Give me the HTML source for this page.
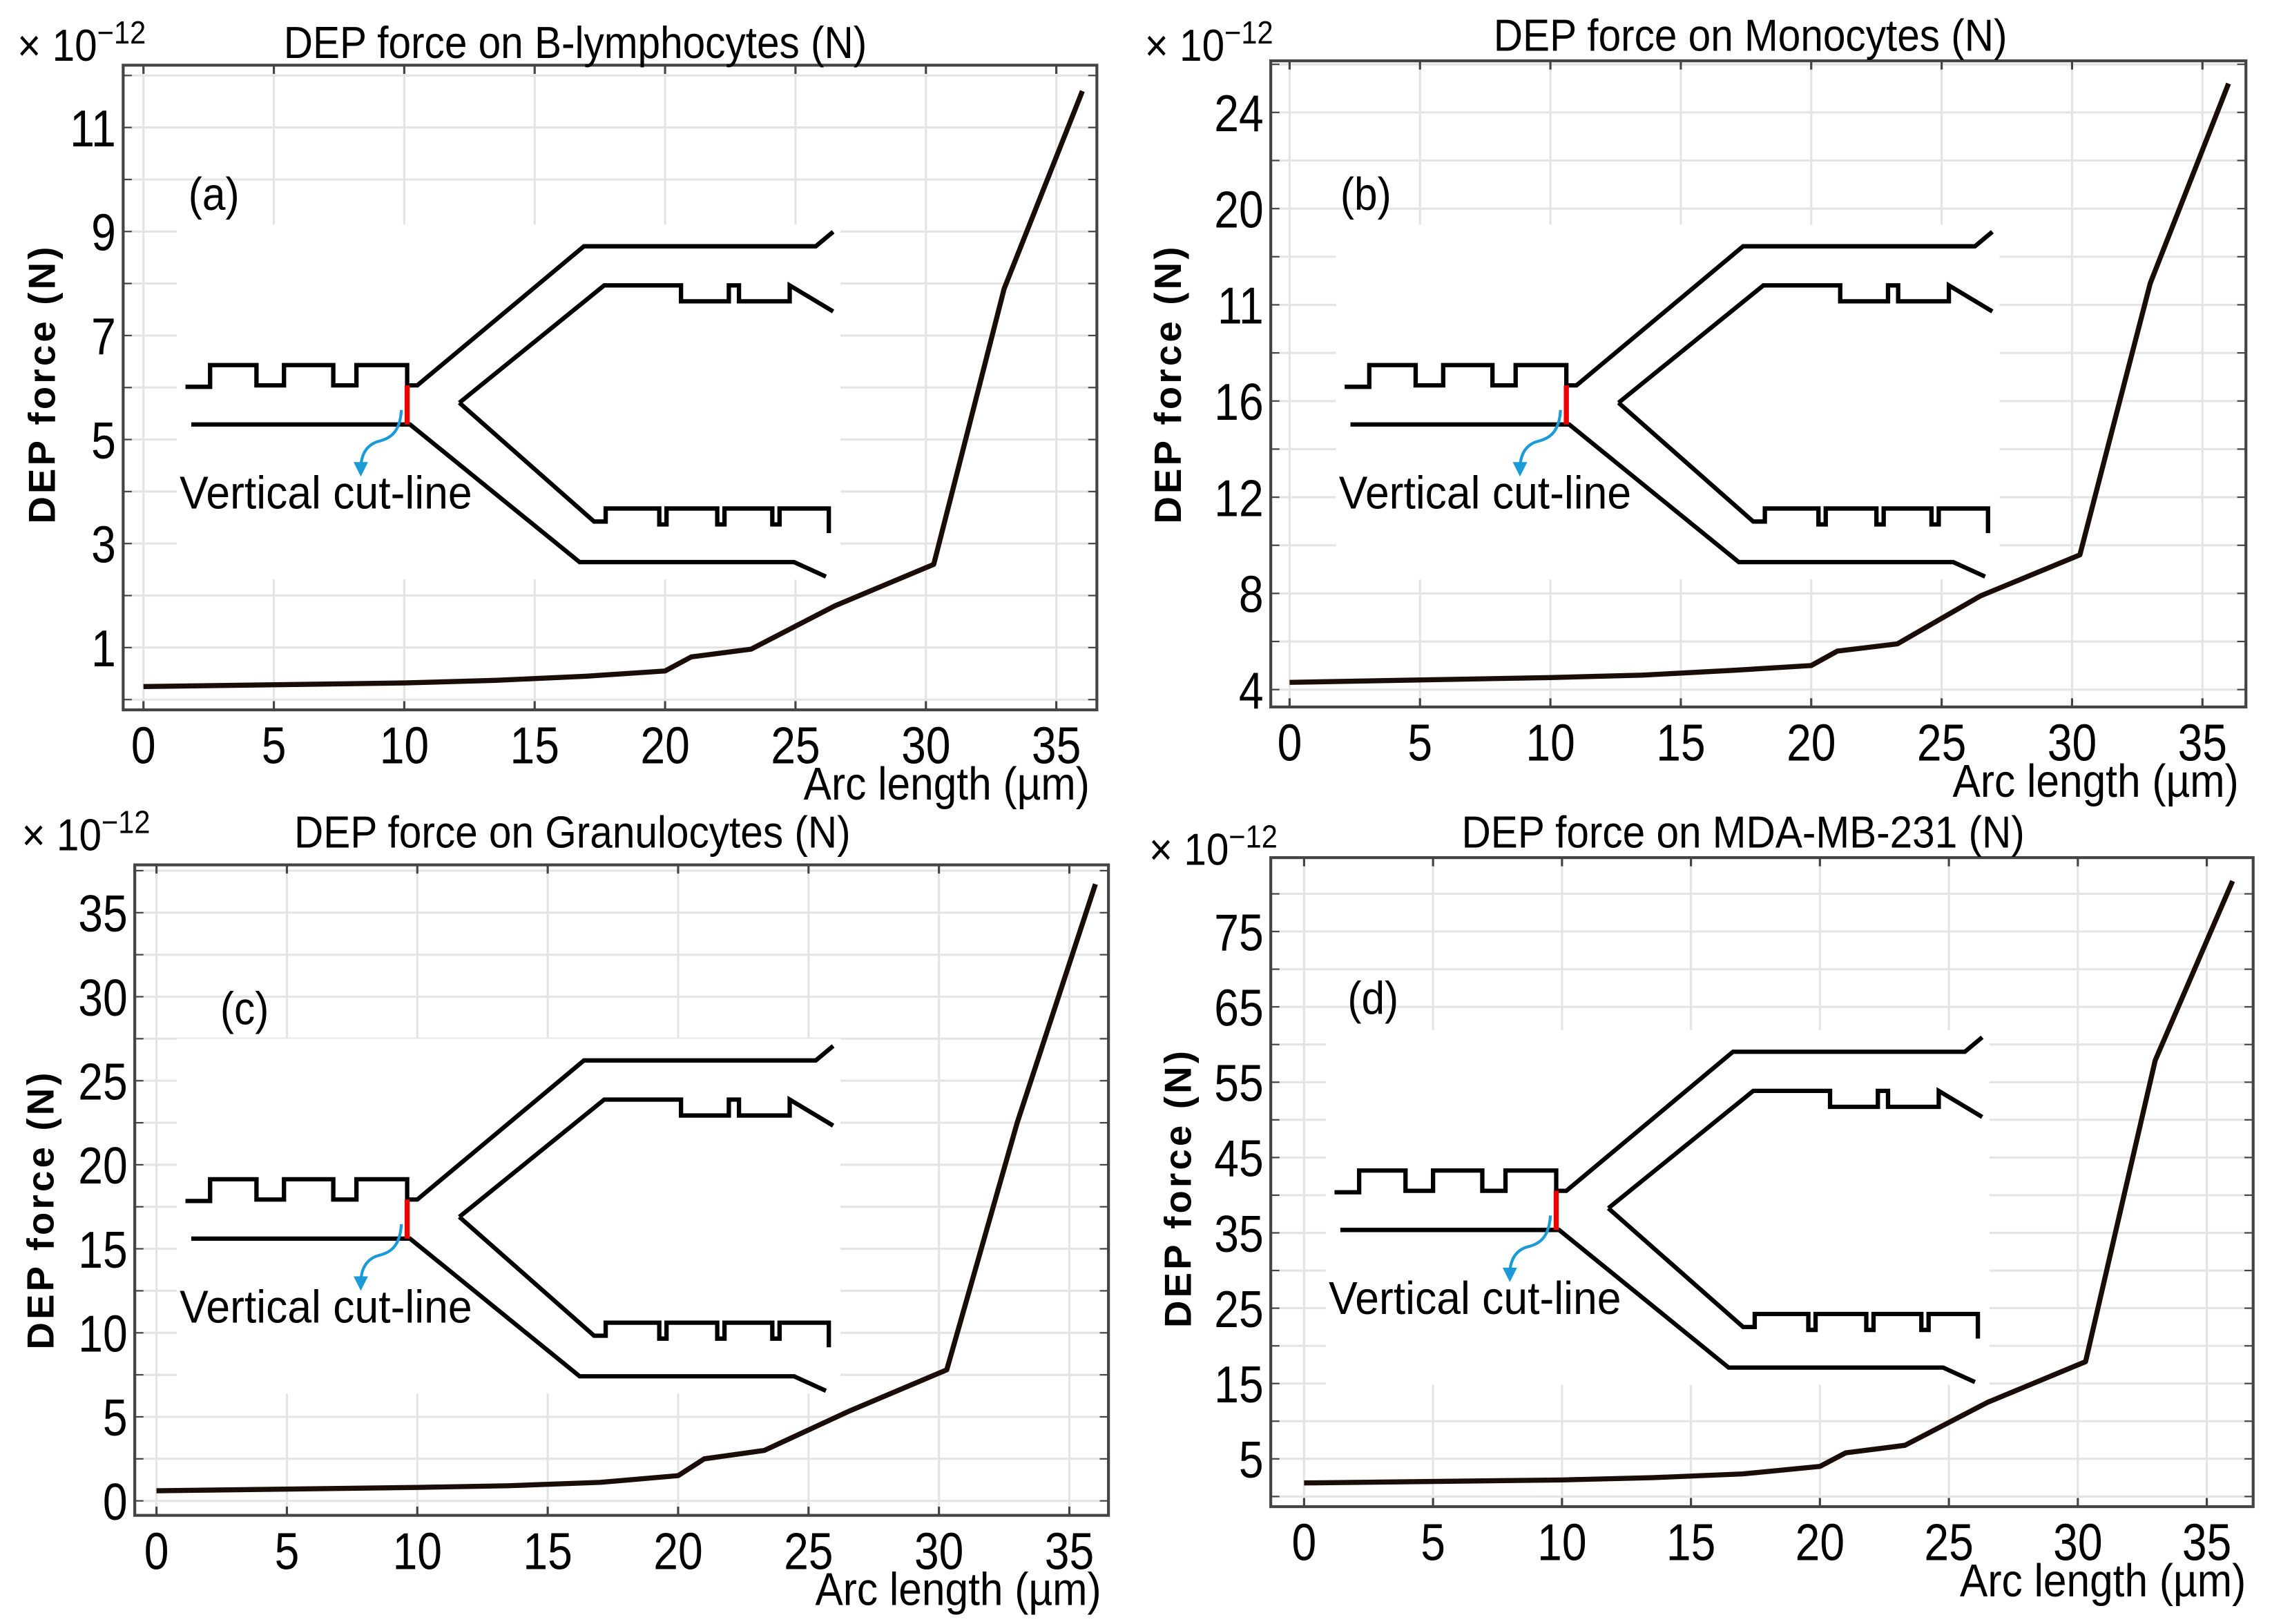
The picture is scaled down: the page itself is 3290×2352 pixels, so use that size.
<!DOCTYPE html>
<html><head><meta charset="utf-8"><style>
html,body{margin:0;padding:0;background:#fff;}
svg{display:block;}
text{font-family:"Liberation Sans",sans-serif;}
</style></head><body>
<svg id="fig" width="3290" height="2352" viewBox="0 0 1568 1121" preserveAspectRatio="none" xmlns="http://www.w3.org/2000/svg"></svg>
<script>
// x values shared by all panels (arc length, µm)
const arcX = [0, 10, 13.5, 17, 20, 21, 23.3, 26.5, 30.3, 33, 36];
// series values (×1e-12 N)
const bLympho = [0.25, 0.32, 0.37, 0.45, 0.55, 0.82, 0.97, 1.8, 2.6, 7.9, 11.7];
const mono = [4.3, 4.5, 4.6, 4.8, 5.0, 5.6, 5.9, 7.9, 9.6, 20.9, 29.2];
const granulo = [0.6, 0.8, 0.9, 1.1, 1.5, 2.5, 3.0, 5.3, 7.8, 22.5, 36.7];
const mda = [1.8, 2.2, 2.5, 3.0, 4.0, 5.8, 6.8, 12.5, 17.9, 57.9, 81.7];
// tick values and printed labels
const xTicks = [0, 5, 10, 15, 20, 25, 30, 35];
const yTicksA = [1, 3, 5, 7, 9, 11];
const yLabelsA = ["1", "3", "5", "7", "9", "11"];
const yTicksB = [4, 8, 12, 16, 20, 24, 28];
const yLabelsB = ["4", "8", "12", "16", "11", "20", "24"];
const yTicksC = [0, 5, 10, 15, 20, 25, 30, 35];
const yLabelsC = ["0", "5", "10", "15", "20", "25", "30", "35"];
const yTicksD = [5, 15, 25, 35, 45, 55, 65, 75];
const yLabelsD = ["5", "15", "25", "35", "45", "55", "65", "75"];
const titles = ["DEP force on B-lymphocytes (N)", "DEP force on Monocytes (N)", "DEP force on Granulocytes (N)", "DEP force on MDA-MB-231 (N)"];

const NS = "http://www.w3.org/2000/svg";
const svg = document.getElementById("fig");
function mk(tag, attrs, parent) {
  const e = document.createElementNS(NS, tag);
  for (const k in attrs) e.setAttribute(k, attrs[k]);
  (parent || svg).appendChild(e);
  return e;
}
function stext(parent, x, y, size, sx, anchor, str) {
  const t = mk("text", {x:0, y:0, "font-size":size, "text-anchor":anchor, transform:`translate(${x},${y}) scale(${sx},1)`}, parent);
  t.textContent = str;
  return t;
}

const panels = [
  {id:"a", box:[85,45,757,490], x0:99, xs:18, yr:447, yv:1, ys:35.9, minor:1, yT:yTicksA, yL:yLabelsA, data:bLympho,
   title:[397,40], mult:[12,42], ylab:[38,265], off:[0,0], tag:[130,145]},
  {id:"b", box:[877,42,1550,488], x0:890, xs:18, yr:476, yv:4, ys:16.6, minor:2, yT:yTicksB, yL:yLabelsB, data:mono,
   title:[1208,35], mult:[790,42], ylab:[815,265], off:[800,0], tag:[925,145]},
  {id:"c", box:[93,597,765,1046], x0:108, xs:18, yr:1036, yv:0, ys:11.6, minor:2.5, yT:yTicksC, yL:yLabelsC, data:granulo,
   title:[395,585], mult:[15,587], ylab:[37,835], off:[0,562], tag:[152,707]},
  {id:"d", box:[877,592,1555,1040], x0:900, xs:17.8, yr:1007, yv:5, ys:5.2, minor:5, yT:yTicksD, yL:yLabelsD, data:mda,
   title:[1203,585], mult:[793,597], ylab:[822,820], off:[793,556], tag:[930,700]}
];

panels.forEach((p, pi) => {
  const g = mk("g", {});
  
  
  const [L,T,R,B] = p.box;
  const X = v => p.x0 + p.xs * v;
  const Y = v => p.yr - p.ys * (v - p.yv);
  const vmin = p.yv - (B - p.yr) / p.ys, vmax = p.yv + (p.yr - T) / p.ys;
  const grid = mk("g", {stroke:"#e4e4e4", "stroke-width":1.5}, g);
  
  
  xTicks.forEach(t => mk("line", {x1:X(t), x2:X(t), y1:T, y2:B}, grid));
  const start = Math.ceil((vmin - p.yv) / p.minor) * p.minor + p.yv;
  for (let v = start; v <= vmax; v += p.minor) {
    mk("line", {x1:L, x2:R, y1:Y(v), y2:Y(v)}, grid);
    mk("line", {x1:L, x2:L+6, y1:Y(v), y2:Y(v), stroke:"#444"}, g);
    mk("line", {x1:R-6, x2:R, y1:Y(v), y2:Y(v), stroke:"#444"}, g);
  }
  xTicks.forEach(t => {
    mk("line", {x1:X(t), x2:X(t), y1:B, y2:B-6, stroke:"#444", "stroke-width":1.5}, g);
    mk("line", {x1:X(t), x2:X(t), y1:T, y2:T+6, stroke:"#444", "stroke-width":1.5}, g);
  });
  const [ox, oy] = p.off;
  const sch = mk("g", {transform:`translate(${ox},${oy})`}, g);
  
  
  mk("rect", {x:122, y:155, width:458, height:245, fill:"#fff"}, sch);
  const st = {fill:"none", stroke:"#000", "stroke-width":3, "stroke-linejoin":"miter"};
  const paths = [
    "M128,267 H145 V252 H177 V266 H196 V252 H230 V266 H246 V252 H281 V266 H288 L403,170 H563 L575,160",
    "M317,278 L417,197 H470 V208 H503 V197 H510 V208 H545 V197 L575,215",
    "M132,293 H283 L400,388 H548 L570,398",
    "M317,278 L410,360 H418 V351 H455 V362 H460 V351 H495 V362 H500 V351 H533 V362 H538 V351 H572 V368"
  ];
  paths.forEach(d => mk("path", Object.assign({d}, st), sch));
  const red = mk("line", {x1:281, x2:281, y1:266, y2:293, stroke:"#e00", "stroke-width":3.5}, sch);
  
  
  mk("path", {d:"M277,283 C276,300 268,303 260,305 C252,308 249,315 249,324", fill:"none", stroke:"#1a9ad6", "stroke-width":2}, sch);
  mk("path", {d:"M244,319 L249,329 L254,319 Z", fill:"#1a9ad6"}, sch);
  const cl = stext(sch, 124, 351, 32, 0.93, "start", "Vertical cut-line");
  
  
  const pts = arcX.map((x, i) => X(x) + "," + Y(p.data[i])).join(" ");
  const line = mk("polyline", {points:pts, fill:"none", stroke:"#1a0d08", "stroke-width":3.5, "stroke-linejoin":"round"}, g);
  
  
  mk("rect", {x:L, y:T, width:R-L, height:B-T, fill:"none", stroke:"#444", "stroke-width":2}, g);
  xTicks.forEach(t => {
    const tx = stext(g, X(t), B+37, 36, 0.85, "middle", String(t));
    
    
  });
  p.yT.forEach((t, i) => {
    const ty = stext(g, L-5, Y(t)+13, 36, 0.85, "end", p.yL[i]);
    
    
  });
  const xl = stext(g, R-5, B+62, 32, 0.9, "end", "Arc length (µm)");
  
  
  const yl = mk("text", {x:0, y:0, "font-size":26, "font-weight":"bold", "text-anchor":"middle", "letter-spacing":2, transform:`translate(${p.ylab[0]},${p.ylab[1]}) rotate(-90)`}, g);
  yl.textContent = "DEP force (N)";
  
  
  const ti = stext(g, p.title[0], p.title[1], 31, 0.9, "middle", titles[pi]);
  
  
  const mu = mk("text", {x:0, y:0, "font-size":31, transform:`translate(${p.mult[0]},${p.mult[1]}) scale(0.9,1)`}, g);
  mu.innerHTML = '× 10<tspan dy="-12" font-size="22">−12</tspan>';
  
  
  const tg = stext(g, p.tag[0], p.tag[1], 32, 0.9, "start", "(" + p.id + ")");
  
  
});
</script>
</body></html>
